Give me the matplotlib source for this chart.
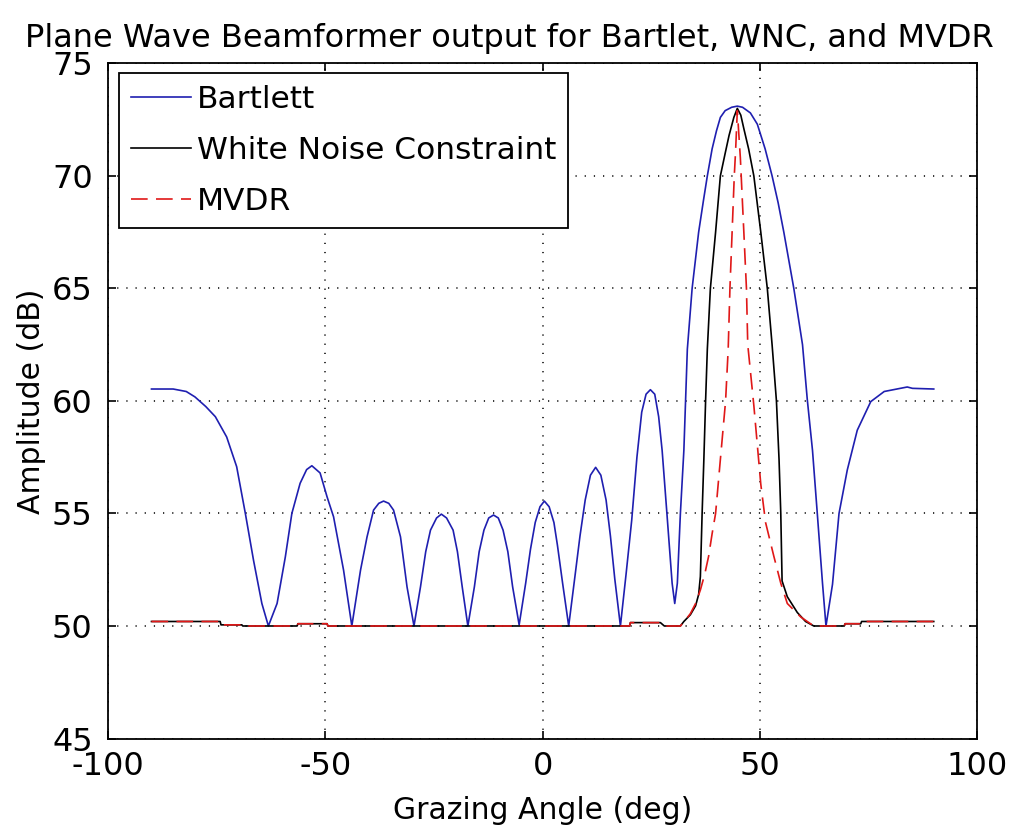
import matplotlib
matplotlib.use('Agg')
import matplotlib.pyplot as plt

# Dane (kat w stopniach, amplituda w dB)
bartlett_x = [-90, -85, -82, -80, -77.5, -75.3, -72.7, -70.4, -68.4, -66.5, -64.6, -63.1,
              -61.1, -59.2, -57.7, -55.8, -54.3, -53.1, -51.2, -49.6, -48.1, -45.8, -43.9,
              -41.9, -40.4, -38.9, -37.7, -36.6, -35.4, -34.3, -32.7, -31.2, -29.6,
              -28.1, -26.9, -25.8, -24.4, -23.3, -22.1, -20.6, -19.6, -18.5, -17.2,
              -15.7, -14.6, -13.5, -12.4, -11.3, -10.2, -9.1, -8.0, -6.9, -5.4,
              -3.9, -2.8, -1.7, -0.6, 0.4, 1.5, 2.6, 3.4, 4.6, 6.0,
              7.5, 8.6, 9.8, 11.0, 12.2, 13.4, 14.6, 15.6, 16.6, 17.9,
              19.2, 20.5, 21.7, 22.8, 23.8, 24.8, 25.8, 26.7, 27.5, 28.6, 29.8, 30.4,
              31.0, 31.7, 32.5, 33.3, 34.4, 35.9, 37.0, 37.9, 39.0, 40.0, 40.9, 42.0,
              43.5, 44.8, 46.0, 47.8, 49.4, 51.2, 52.8, 54.2, 55.5, 57.8, 59.8, 60.9,
              62.1, 63.2, 64.4, 65.2,
              66.7, 68.2, 70.1, 72.4, 75.5, 78.6, 83.9, 85.1, 90]
bartlett_y = [60.53, 60.53, 60.42, 60.18, 59.75, 59.3, 58.4, 57.08, 55.0, 52.9, 51.0, 50.0,
              51.0, 53.07, 55.0, 56.34, 56.95, 57.12, 56.8, 55.74, 54.85, 52.48, 50.0,
              52.48, 53.96, 55.15, 55.45, 55.55, 55.45, 55.15, 53.96, 51.74, 50.0,
              51.74, 53.3, 54.26, 54.8, 54.97, 54.8, 54.26, 53.3, 51.74, 50.0,
              51.74, 53.3, 54.26, 54.8, 54.93, 54.8, 54.26, 53.3, 51.74, 50.05,
              51.9, 53.4, 54.6, 55.3, 55.55, 55.3, 54.6, 53.6, 51.9, 50.0,
              52.3, 54.0, 55.6, 56.7, 57.05, 56.7, 55.6, 54.0, 52.1, 50.0,
              52.3, 54.7, 57.5, 59.5, 60.3, 60.5, 60.3, 59.3, 57.8, 55.0, 51.9, 51.0,
              51.9, 55.0, 57.8, 62.3, 65.0, 67.5, 68.9, 70.0, 71.2, 72.0, 72.6, 72.9,
              73.05, 73.1, 73.05, 72.8, 72.3, 71.2, 70.0, 68.8, 67.5, 65.0, 62.5, 60.06,
              57.8, 55.0, 51.9, 50.0,
              51.85, 55.0, 56.93, 58.7, 59.97, 60.42, 60.62, 60.56, 60.53]

wnc_x = [-90, -74.2, -74.0, -69.2, -69.0, -56.5, -56.3, -49.6, -49.4, 20.0, 20.2, 27.1,
         28.0, 31.7, 32.5, 34.0, 35.2, 35.9, 36.3, 36.7, 37.1, 37.5, 37.9, 38.6, 39.8,
         40.9, 42.0, 42.9, 44.0, 44.8, 45.6, 46.3, 47.4, 48.6, 50.2, 51.7, 52.8, 53.8,
         54.4, 54.8, 55.1, 56.3, 58.6, 60.5, 62.4, 69.4, 69.6, 73.2, 73.4, 90]
wnc_y = [50.2, 50.2, 50.05, 50.05, 50.0, 50.0, 50.1, 50.1, 50.0, 50.0, 50.15, 50.15,
         50.0, 50.0, 50.2, 50.5, 50.9, 51.4, 52.2, 55.0, 57.4, 60.0, 62.3, 65.0, 67.5,
         70.0, 71.0, 71.8, 72.6, 73.0, 72.7, 72.1, 71.2, 70.0, 67.5, 65.0, 62.5, 60.0,
         57.4, 55.0, 52.0, 51.3, 50.6, 50.2, 50.0, 50.0, 50.1, 50.1, 50.2, 50.2]

mvdr_x = [-90, -74.2, -74.0, -69.2, -69.0, -56.5, -56.3, -49.6, -49.4, 20.0, 20.2, 27.1,
          28.0, 31.7, 33.0, 34.0, 35.2, 36.3, 37.3, 38.2, 39.0, 39.8, 40.9, 42.1, 42.7,
          43.1, 43.6, 44.1, 44.4, 44.8, 45.5, 46.3, 46.9, 47.2, 48.6, 50.2, 51.3, 53.2,
          54.8, 56.3, 59.4, 62.4, 69.4, 69.6, 73.2, 73.4, 90]
mvdr_y = [50.2, 50.2, 50.05, 50.05, 50.0, 50.0, 50.1, 50.1, 50.0, 50.0, 50.15, 50.15,
          50.0, 50.0, 50.3, 50.55, 51.0, 51.6, 52.3, 53.1, 54.1, 55.0, 57.4, 60.0, 62.3,
          65.0, 67.5, 70.0, 71.1, 72.9, 70.8, 67.5, 65.0, 62.5, 59.8, 56.3, 54.6, 53.1,
          51.9, 51.0, 50.4, 50.0, 50.0, 50.1, 50.1, 50.2, 50.2]

x_ticks = [-100, -50, 0, 50, 100]
y_ticks = [45, 50, 55, 60, 65, 70, 75]

plt.rcParams['font.family'] = ['DejaVu Sans']
plt.rcParams['axes.unicode_minus'] = False

fig = plt.figure(figsize=(10.19, 8.34), dpi=100)
ax = fig.add_axes([0.106, 0.1145, 0.853, 0.8095])

ax.plot(bartlett_x, bartlett_y, color='#1f1fb0', lw=1.2, label='Bartlett')
ax.plot(wnc_x, wnc_y, color='black', lw=1.2, label='White Noise Constraint')
ax.plot(mvdr_x, mvdr_y, color='#e01818', lw=1.2, dashes=(10, 5), label='MVDR')

ax.set_xlim(-100, 100)
ax.set_ylim(45, 75)
ax.set_xticks(x_ticks)
ax.set_yticks(y_ticks)
ax.grid(True, color='black', lw=1.1, linestyle=(0, (0.8, 5.2)))
ax.tick_params(direction='in', length=6, width=1.2, top=True, right=True,
               labelsize=23)
ax.tick_params(axis='x', pad=9)
ax.tick_params(axis='y', pad=11)
for s in ax.spines.values():
    s.set_linewidth(1.3)

# tytul wysrodkowany wzgledem calej figury, jak w oryginale
fig.text(0.5, 1 - 38 / 834, 'Plane Wave Beamformer output for Bartlet, WNC, and MVDR',
         fontsize=23, ha='center', va='center')
ax.set_xlabel('Grazing Angle (deg)', fontsize=21.5, labelpad=10)
ax.set_ylabel('Amplitude (dB)', fontsize=21.5, labelpad=4)

leg = ax.legend(loc='upper left', bbox_to_anchor=(0.013, 0.9855), borderaxespad=0,
                fontsize=22.5, fancybox=False, framealpha=1, edgecolor='black',
                handlelength=1.9, handletextpad=0.2, labelspacing=0.7,
                borderpad=0.38)
leg.get_frame().set_linewidth(1.3)

fig.savefig('out.png', dpi=100)
